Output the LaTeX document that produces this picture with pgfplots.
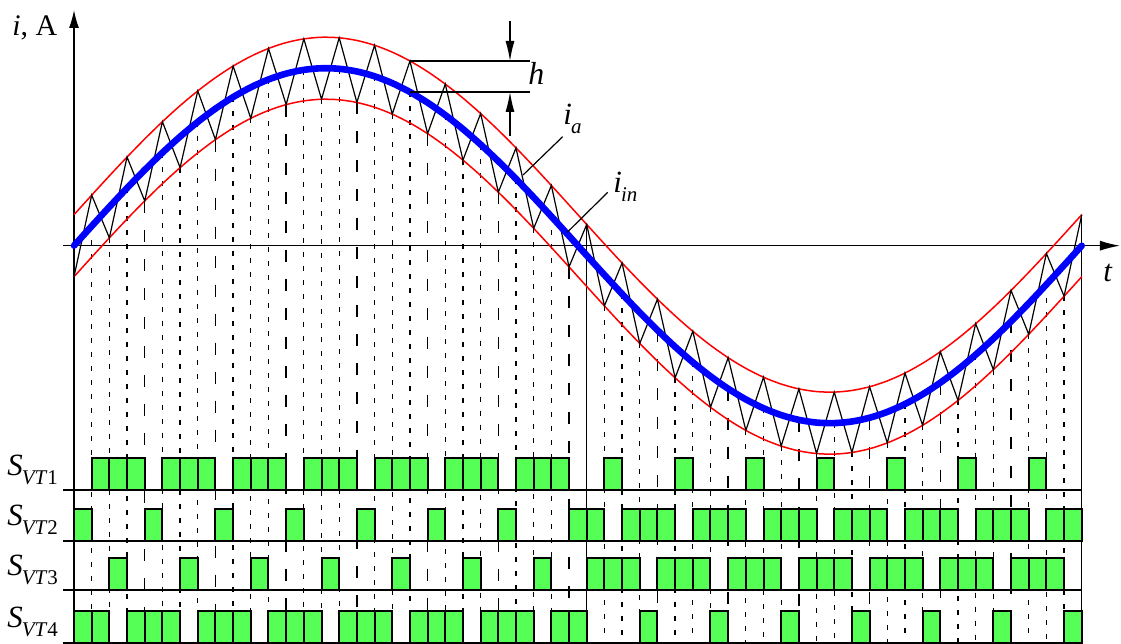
\documentclass[border=0pt]{standalone}
\usepackage{fontspec}
\setmainfont{Liberation Serif}
\usepackage{pgfplots}
\pgfplotsset{compat=1.18}
\usepackage{pgfplotstable}
\usetikzlibrary{arrows.meta}
\definecolor{boxgreen}{RGB}{85,255,85}
\newcommand{\sym}[2]{{\fontsize{15.5}{18}\selectfont\textit{#1}}\kern-0.5bp\raisebox{-4.5bp}{\fontsize{10.5}{12}\selectfont #2}}
\pgfplotsset{mybase/.style={x=8.84bp, y=0.5bp, xmin=-4.186, xmax=59.22,
  axis line style={draw=none}, xtick=\empty, ytick=\empty, clip=false, enlargelimits=false}}

% switching states of VT1..VT4 over each interval k (value = box height)
\pgfplotstableread{
k a b c d
0 0 32 0 32
1 32 0 0 32
2 32 0 32 0
3 32 0 0 32
4 0 32 0 32
5 32 0 0 32
6 32 0 32 0
7 32 0 0 32
8 0 32 0 32
9 32 0 0 32
10 32 0 32 0
11 32 0 0 32
12 0 32 0 32
13 32 0 0 32
14 32 0 32 0
15 32 0 0 32
16 0 32 0 32
17 32 0 0 32
18 32 0 32 0
19 32 0 0 32
20 0 32 0 32
21 32 0 0 32
22 32 0 32 0
23 32 0 0 32
24 0 32 0 32
25 32 0 0 32
26 32 0 32 0
27 32 0 0 32
28 0 32 0 32
29 0 32 32 0
30 32 0 32 0
31 0 32 32 0
32 0 32 0 32
33 0 32 32 0
34 32 0 32 0
35 0 32 32 0
36 0 32 0 32
37 0 32 32 0
38 32 0 32 0
39 0 32 32 0
40 0 32 0 32
41 0 32 32 0
42 32 0 32 0
43 0 32 32 0
44 0 32 0 32
45 0 32 32 0
46 32 0 32 0
47 0 32 32 0
48 0 32 0 32
49 0 32 32 0
50 32 0 32 0
51 0 32 32 0
52 0 32 0 32
53 0 32 32 0
54 32 0 32 0
55 0 32 32 0
56 0 32 0 32
57 0 0 0 0
}\switches

\begin{document}
\begin{tikzpicture}
\begin{axis}[mybase, ymin=-398.3, ymax=245.7]
% short dashed drop lines
\addplot[black, line width=0.65bp, dash pattern=on 2.5bp off 4.5bp, unbounded coords=jump] coordinates {
(1,19.53) (1,-397) (1,nan) (2,7.81) (2,-397) (2,nan) (3,57.63) (3,-397) (3,nan)
(5,92.96) (5,-397) (5,nan) (6,78.02) (6,-397) (6,nan) (7,123.77) (7,-397) (7,nan)
(9,148.60) (9,-397) (9,nan) (10,127.38) (10,-397) (10,nan) (11,166.23) (11,-397) (11,nan)
(13,175.81) (13,-397) (13,nan) (14,146.43) (14,-397) (14,nan) (15,176.89) (15,-397) (15,nan)
(17,169.41) (17,-397) (17,nan) (18,131.55) (18,-397) (18,nan) (19,153.72) (19,-397) (19,nan)
(21,130.59) (21,-397) (21,nan) (22,85.58) (22,-397) (22,nan) (23,101.14) (23,-397) (23,nan)
(25,66.80) (25,-397) (25,nan) (26,17.30) (26,-397) (26,nan) (27,29.21) (27,-397) (27,nan)
(30,-60.21) (30,-397) (30,nan) (31,-48.30) (31,-397) (31,nan) (32,-97.80) (32,-397) (32,nan)
(34,-132.14) (34,-397) (34,nan) (35,-116.58) (35,-397) (35,nan) (36,-161.59) (36,-397) (36,nan)
(38,-184.72) (38,-397) (38,nan) (39,-162.55) (39,-397) (39,nan) (40,-200.41) (40,-397) (40,nan)
(42,-207.89) (42,-397) (42,nan) (43,-177.43) (43,-397) (43,nan) (44,-206.81) (44,-397) (44,nan)
(46,-197.23) (46,-397) (46,nan) (47,-158.38) (47,-397) (47,nan) (48,-179.60) (48,-397) (48,nan)
(50,-154.77) (50,-397) (50,nan) (51,-109.02) (51,-397) (51,nan) (52,-123.96) (52,-397) (52,nan)
(54,-88.63) (54,-397) (54,nan) (55,-38.81) (55,-397) (55,nan) (56,-50.53) (56,-397)
};
% long dashed drop lines
\addplot[black, line width=0.7bp, dash pattern=on 6bp off 8.5bp, unbounded coords=jump] coordinates {
(4,44.75) (4,-397) (4,nan) (8,106.01) (8,-397) (8,nan) (12,141.07) (12,-397) (12,nan)
(16,143.21) (16,-397) (16,nan) (20,112.03) (20,-397) (20,nan) (24,53.48) (24,-397) (24,nan)
(28,-21.22) (28,-397) (28,nan) (33,-84.48) (33,-397) (33,nan) (37,-143.03) (37,-397) (37,nan)
(41,-174.21) (41,-397) (41,nan) (45,-172.07) (45,-397) (45,nan) (49,-137.01) (49,-397) (49,nan)
(53,-75.75) (53,-397)
};
% solid lines
\addplot[black, line width=0.7bp] coordinates {(29,21.22) (29,-397)};
\addplot[black, line width=0.7bp] coordinates {(57,31) (57,-397)};
% axes
\draw[line width=0.7bp, -{Latex[length=9bp,width=5bp]}] (axis cs:0,-397) -- (axis cs:0,235.7);
\draw[line width=0.6bp, -{Latex[length=10bp,width=5bp]}] (axis cs:-0.62,0) -- (axis cs:59.16,0);
% envelopes
\addplot[red, line width=0.75bp, smooth] coordinates {
(0,31) (1,50.53) (2,69.81) (3,88.63) (4,106.75) (5,123.96) (6,140.02) (7,154.77) (8,168.01) (9,179.60)
(10,189.38) (11,197.23) (12,203.07) (13,206.81) (14,208.43) (15,207.89) (16,205.21) (17,200.41) (18,193.55) (19,184.72)
(20,174.03) (21,161.59) (22,147.58) (23,132.14) (24,115.48) (25,97.80) (26,79.30) (27,60.21) (28,40.78) (29,21.22)
(30,1.79) (31,-17.30) (32,-35.80) (33,-53.48) (34,-70.14) (35,-85.58) (36,-99.59) (37,-112.03) (38,-122.72) (39,-131.55)
(40,-138.41) (41,-143.21) (42,-145.89) (43,-146.43) (44,-144.81) (45,-141.07) (46,-135.23) (47,-127.38) (48,-117.60) (49,-106.01)
(50,-92.77) (51,-78.02) (52,-61.96) (53,-44.75) (54,-26.63) (55,-7.81) (56,11.47) (57,31)
};
\addplot[red, line width=0.75bp, smooth] coordinates {
(0,-31) (1,-11.47) (2,7.81) (3,26.63) (4,44.75) (5,61.96) (6,78.02) (7,92.77) (8,106.01) (9,117.60)
(10,127.38) (11,135.23) (12,141.07) (13,144.81) (14,146.43) (15,145.89) (16,143.21) (17,138.41) (18,131.55) (19,122.72)
(20,112.03) (21,99.59) (22,85.58) (23,70.14) (24,53.48) (25,35.80) (26,17.30) (27,-1.79) (28,-21.22) (29,-40.78)
(30,-60.21) (31,-79.30) (32,-97.80) (33,-115.48) (34,-132.14) (35,-147.58) (36,-161.59) (37,-174.03) (38,-184.72) (39,-193.55)
(40,-200.41) (41,-205.21) (42,-207.89) (43,-208.43) (44,-206.81) (45,-203.07) (46,-197.23) (47,-189.38) (48,-179.60) (49,-168.01)
(50,-154.77) (51,-140.02) (52,-123.96) (53,-106.75) (54,-88.63) (55,-69.81) (56,-50.53) (57,-31)
};
% actual current (zigzag)
\addplot[black, line width=0.6bp] coordinates {
(0,-31) (1,50.53) (2,7.81) (3,88.63) (4,44.75) (5,123.96) (6,78.02) (7,154.77) (8,106.01) (9,179.60)
(10,127.38) (11,197.23) (12,141.07) (13,206.81) (14,146.43) (15,207.89) (16,143.21) (17,200.41) (18,131.55) (19,184.72)
(20,112.03) (21,161.59) (22,85.58) (23,132.14) (24,53.48) (25,97.80) (26,17.30) (27,60.21) (28,-21.22) (29,21.22)
(30,-60.21) (31,-17.30) (32,-97.80) (33,-53.48) (34,-132.14) (35,-85.58) (36,-161.59) (37,-112.03) (38,-184.72) (39,-131.55)
(40,-200.41) (41,-143.21) (42,-207.89) (43,-146.43) (44,-206.81) (45,-141.07) (46,-197.23) (47,-127.38) (48,-179.60) (49,-106.01)
(50,-154.77) (51,-78.02) (52,-123.96) (53,-44.75) (54,-88.63) (55,-7.81) (56,-50.53) (57,31)
};
% reference current
\addplot[blue, line width=3.3bp, smooth, line cap=round] coordinates {
(0,0) (1,19.53) (2,38.81) (3,57.63) (4,75.75) (5,92.96) (6,109.02) (7,123.77) (8,137.01) (9,148.60)
(10,158.38) (11,166.23) (12,172.07) (13,175.81) (14,177.43) (15,176.89) (16,174.21) (17,169.41) (18,162.55) (19,153.72)
(20,143.03) (21,130.59) (22,116.58) (23,101.14) (24,84.48) (25,66.80) (26,48.30) (27,29.21) (28,9.78) (29,-9.78)
(30,-29.21) (31,-48.30) (32,-66.80) (33,-84.48) (34,-101.14) (35,-116.58) (36,-130.59) (37,-143.03) (38,-153.72) (39,-162.55)
(40,-169.41) (41,-174.21) (42,-176.89) (43,-177.43) (44,-175.81) (45,-172.07) (46,-166.23) (47,-158.38) (48,-148.60) (49,-137.01)
(50,-123.77) (51,-109.02) (52,-92.96) (53,-75.75) (54,-57.63) (55,-38.81) (56,-19.53) (57,0)
};
% h annotation
\draw[line width=0.6bp] (axis cs:19,184.7) -- (axis cs:25.79,184.7);
\draw[line width=0.6bp] (axis cs:19,153.7) -- (axis cs:25.79,153.7);
\draw[line width=0.6bp, -{Latex[length=10bp,width=4.5bp]}] (axis cs:24.66,225) -- (axis cs:24.66,184.7);
\draw[line width=0.6bp, -{Latex[length=10bp,width=4.5bp]}] (axis cs:24.66,109.7) -- (axis cs:24.66,153.7);
\node[anchor=base west, inner sep=0pt, font=\fontsize{16}{18}\selectfont\itshape] at (axis cs:25.68,160.7) {h};
% leaders
\draw[line width=0.6bp] (axis cs:25.40,70.7) -- (axis cs:27.64,109);
\draw[line width=0.6bp] (axis cs:27.90,13.4) -- (axis cs:30.19,53.4);
\node[anchor=base west, inner sep=0pt] at (axis cs:27.66,120.7) {\sym{i}{\textit{a}}};
\node[anchor=base west, inner sep=0pt] at (axis cs:30.49,52.7) {\sym{i}{\textit{in}}};
\node[anchor=base west, inner sep=0pt, font=\fontsize{15.5}{18}\selectfont\itshape] at (axis cs:58.2,-36.3) {t};
\node[anchor=base west, inner sep=0pt, font=\fontsize{15}{17}\selectfont] at (axis cs:-3.51,209.7) {\textit{i}, A};
\node[anchor=base west, inner sep=0pt] at (axis cs:-3.79,-230.3) {\sym{S}{\textit{VT}1}};
\node[anchor=base west, inner sep=0pt] at (axis cs:-3.79,-280.3) {\sym{S}{\textit{VT}2}};
\node[anchor=base west, inner sep=0pt] at (axis cs:-3.79,-330.3) {\sym{S}{\textit{VT}3}};
\node[anchor=base west, inner sep=0pt] at (axis cs:-3.79,-382.3) {\sym{S}{\textit{VT}4}};
\end{axis}
% switching rows, each an axis whose y=0 sits on the row's baseline
\begin{axis}[mybase, ymin=-154, ymax=490]
\addplot[ybar interval, fill=boxgreen, draw=black, line width=1bp] table[x=k,y=a]{\switches};
\addplot[black, line width=1bp] coordinates {(-0.62,0) (57,0)};
\end{axis}
\begin{axis}[mybase, ymin=-103.3, ymax=540.7]
\addplot[ybar interval, fill=boxgreen, draw=black, line width=1bp] table[x=k,y=b]{\switches};
\addplot[black, line width=1bp] coordinates {(-0.62,0) (57,0)};
\end{axis}
\begin{axis}[mybase, ymin=-54.3, ymax=589.7]
\addplot[ybar interval, fill=boxgreen, draw=black, line width=1bp] table[x=k,y=c]{\switches};
\addplot[black, line width=1bp] coordinates {(-0.62,0) (57,0)};
\end{axis}
\begin{axis}[mybase, ymin=-1.3, ymax=642.7]
\addplot[ybar interval, fill=boxgreen, draw=black, line width=1bp] table[x=k,y=d]{\switches};
\addplot[black, line width=1bp] coordinates {(-0.62,0) (57,0)};
\end{axis}
\pgfresetboundingbox
\path (current axis.south west) rectangle (current axis.north east);
\end{tikzpicture}
\end{document}
